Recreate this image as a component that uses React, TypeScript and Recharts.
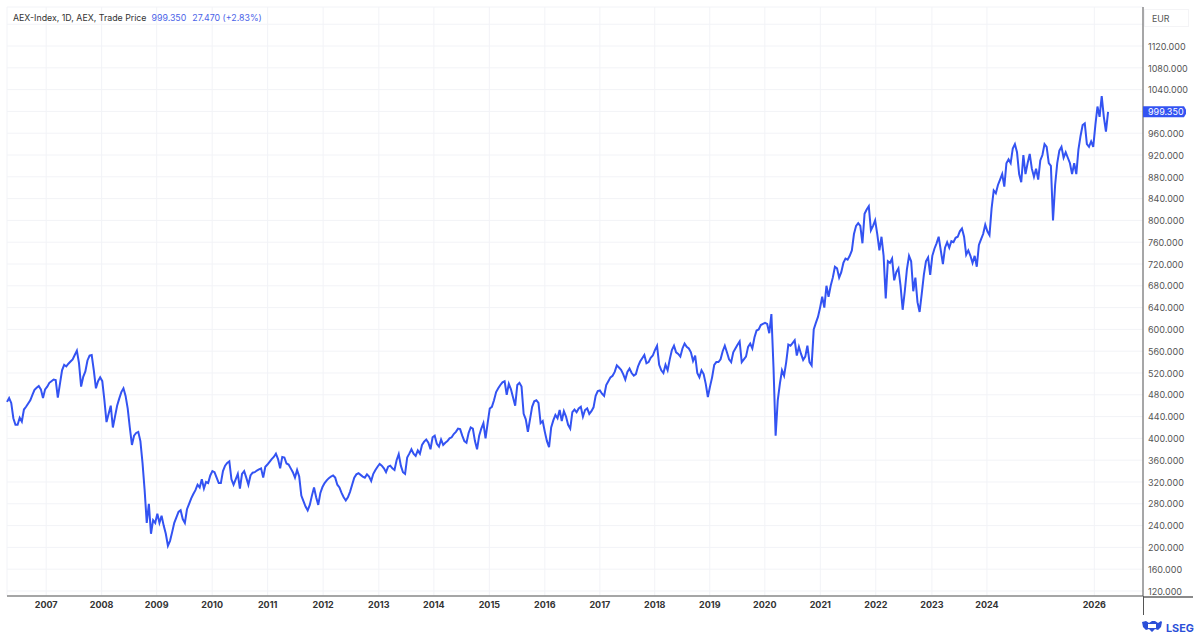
import { LineChart, Line, XAxis, YAxis, CartesianGrid, ReferenceDot } from "recharts";

// fortnightly closes, one list per calendar year
const close2006 = [467, 474, 465, 437, 425, 425, 438, 431, 453, 458, 464, 470, 480, 489, 493, 496, 490, 474, 490];
const close2007 = [495, 502, 505, 508, 507, 475, 500, 525, 535, 532, 537, 541, 545, 553, 561, 538, 495, 513, 523, 543, 552, 553, 525, 492, 505, 512];
const close2008 = [505, 470, 430, 445, 460, 420, 440, 460, 473, 485, 492, 478, 455, 420, 388, 405, 410, 412, 395, 355, 305, 245, 280, 225, 250, 245];
const close2009 = [262, 245, 258, 240, 225, 203, 212, 228, 245, 255, 265, 268, 252, 245, 270, 280, 290, 298, 305, 315, 310, 325, 308, 320, 318, 332];
const close2010 = [340, 338, 328, 318, 318, 340, 350, 355, 358, 325, 315, 325, 335, 308, 335, 340, 328, 315, 332, 337, 338, 341, 343, 345, 328, 348];
const close2011 = [352, 357, 362, 366, 372, 362, 345, 366, 365, 354, 352, 345, 338, 328, 342, 330, 295, 285, 275, 268, 278, 295, 310, 292, 278, 300];
const close2012 = [311, 318, 323, 327, 330, 332, 328, 315, 310, 300, 292, 286, 292, 302, 315, 328, 334, 336, 333, 330, 328, 334, 330, 322, 335, 342];
const close2013 = [348, 353, 350, 345, 338, 348, 350, 345, 342, 360, 371, 350, 338, 335, 365, 372, 380, 372, 368, 378, 372, 388, 394, 398, 392, 380];
const close2014 = [402, 405, 390, 385, 398, 388, 392, 395, 400, 402, 408, 412, 418, 417, 405, 395, 392, 410, 420, 418, 395, 380, 405, 418, 428, 400];
const close2015 = [428, 455, 458, 470, 485, 492, 498, 503, 505, 480, 500, 490, 475, 460, 498, 502, 495, 445, 435, 412, 435, 458, 468, 470, 465, 428];
const close2016 = [432, 412, 395, 384, 420, 433, 443, 437, 452, 432, 450, 440, 425, 418, 448, 453, 448, 455, 458, 440, 452, 455, 445, 450, 457, 478];
const close2017 = [487, 488, 482, 478, 498, 505, 512, 515, 522, 534, 530, 526, 518, 508, 522, 528, 520, 515, 518, 532, 541, 547, 553, 538, 540, 548];
const close2018 = [552, 562, 570, 535, 525, 520, 535, 525, 545, 562, 570, 558, 555, 550, 565, 574, 568, 565, 558, 542, 552, 520, 512, 525, 518, 500];
const close2019 = [476, 495, 512, 535, 540, 540, 545, 560, 570, 558, 545, 540, 558, 565, 572, 578, 540, 545, 550, 568, 574, 565, 585, 598, 600, 608];
const close2020 = [610, 612, 610, 593, 628, 530, 405, 470, 500, 525, 515, 540, 572, 570, 575, 580, 552, 568, 555, 544, 550, 570, 540, 534, 600, 612];
const close2021 = [623, 640, 660, 640, 680, 660, 680, 695, 715, 712, 695, 705, 722, 730, 728, 735, 745, 775, 790, 795, 790, 758, 812, 820, 826, 782];
const close2022 = [790, 800, 775, 745, 770, 735, 657, 725, 722, 730, 690, 705, 712, 680, 636, 670, 710, 735, 725, 670, 695, 650, 632, 665, 700, 725];
const close2023 = [732, 700, 735, 748, 758, 770, 745, 720, 750, 760, 750, 762, 760, 768, 770, 780, 785, 770, 737, 745, 735, 722, 735, 715, 755, 765, 775, 792];
const close2024 = [780, 773, 822, 855, 850, 865, 875, 885, 862, 905, 912, 905, 932, 940, 925, 885, 870, 920, 885, 905, 922, 895, 880, 895, 875, 910];
const close2025 = [920, 940, 935, 905, 900, 800, 865, 905, 928, 935, 915, 925, 915, 905, 885, 905, 885, 930, 955, 975, 978, 940, 935, 945, 935, 975];
const close2026 = [1009, 990, 1028, 990, 963, 999.35];

const closes = [
  ...close2006, ...close2007, ...close2008, ...close2009, ...close2010, ...close2011, ...close2012,
  ...close2013, ...close2014, ...close2015, ...close2016, ...close2017, ...close2018, ...close2019,
  ...close2020, ...close2021, ...close2022, ...close2023, ...close2024, ...close2025, ...close2026,
];
const data = closes.map((close, i) => ({ i, close }));

// the time axis counts sessions, so years are not evenly spaced; 2025 has no label
const yearLabels = ["2007", "2008", "2009", "2010", "2011", "2012", "2013", "2014", "2015", "2016", "2017", "2018", "2019", "2020", "2021", "2022", "2023", "2024", "2026"];
const yearStarts = [18.5, 44.7, 70.7, 96.9, 123.1, 149.3, 175.6, 201.6, 227.8, 254, 280, 305.9, 331.9, 357.9, 384.1, 410.3, 436.8, 462.8, 513.5];
const priceTicks = [120, 160, 200, 240, 280, 320, 360, 400, 440, 480, 520, 560, 600, 640, 680, 720, 760, 800, 840, 880, 920, 960, 1000, 1040, 1080, 1120, 1160];
const lastClose = 999.35;

const BLUE = "#3353f2";
const font = "Inter, 'Noto Sans', sans-serif";

function PriceTag({ cx, cy }: any) {
  return (
    <g>
      <path d={`M${cx} ${cy - 5.5} H${cx + 41} L${cx + 43} ${cy - 2} V${cy + 2} L${cx + 41} ${cy + 5.5} H${cx} Z`} fill={BLUE} />
      <text x={cx + 5} y={cy + 3.3} fill="#fff" fontSize={9} fontFamily={font}>999.350</text>
    </g>
  );
}

export default function App() {
  return (
    <div style={{ position: "absolute", left: 0, top: 0, width: 1200, height: 636, background: "#fff", fontFamily: font, overflow: "hidden" }}>
      <LineChart width={1200} height={636} data={data} margin={{ top: 7, right: 0, left: 7, bottom: 0 }}>
        <CartesianGrid stroke="#f2f3f7" strokeWidth={1} />
        <XAxis
          dataKey="i"
          type="number"
          domain={[0, 536.5]}
          ticks={yearStarts}
          interval={0}
          height={40}
          tickLine={false}
          tickSize={0}
          axisLine={{ stroke: "#8a8a8a", strokeWidth: 1.5 }}
          tickMargin={6}
          tickFormatter={(v: number) => yearLabels[yearStarts.indexOf(v)]}
          tick={{ fill: "#333", fontSize: 9, fontWeight: 700, fontFamily: font }}
        />
        <YAxis
          orientation="right"
          type="number"
          domain={[110.8, 1191.6]}
          ticks={priceTicks}
          interval={0}
          width={57}
          tickLine={false}
          tickSize={0}
          axisLine={{ stroke: "#555", strokeWidth: 1 }}
          tickMargin={5}
          tickFormatter={(v: number) => (v === 1160 || v === 1000 ? "" : v.toFixed(3))}
          tick={{ fill: "#555", fontSize: 9, dy: 0.5, fontFamily: font }}
        />
        <Line dataKey="close" type="linear" stroke={BLUE} strokeWidth={2} dot={false} isAnimationActive={false} />
        <ReferenceDot x={536.5} y={lastClose} ifOverflow="visible" shape={<PriceTag />} />
      </LineChart>

      <div style={{ position: "absolute", left: 13, top: 12, fontSize: 8.8, lineHeight: "12px", color: "#333", whiteSpace: "pre" }}>
        AEX-Index, 1D, AEX, Trade Price
        <span style={{ color: "#4a63e8", marginLeft: 5 }}>999.350</span>
        <span style={{ color: "#4a63e8", marginLeft: 6 }}>27.470 (+2.83%)</span>
      </div>

      <div style={{ position: "absolute", left: 1144, top: 9, width: 45, height: 18, border: "1px solid #f4f4f6", boxSizing: "border-box", fontSize: 8.8, lineHeight: "17px", paddingLeft: 7, color: "#555" }}>EUR</div>

      {/* axis rules run past the plot area */}
      <div style={{ position: "absolute", left: 1143, top: 596, width: 50, height: 1.5, background: "#8a8a8a" }} />
      <div style={{ position: "absolute", left: 1143, top: 596, width: 1, height: 19, background: "#555" }} />

      {/* LSEG mark */}
      <svg style={{ position: "absolute", left: 1140, top: 620 }} width={56} height={14}>
        <path d="M2 2 L6 1 L9 3 L12 1 L15 1 L18 3 L21 1 L22 2 L21 7 L18 10 L15 9 L12 12 L9 9 L6 10 L3 7 Z" fill="#2b4fd8" />
        <rect x={8} y={4} width={8} height={4} fill="#fff" />
        <text x={26} y={11.5} fill="#2b4fd8" fontSize={10.8} fontWeight={700} fontFamily="Inter, sans-serif">LSEG</text>
      </svg>
    </div>
  );
}
